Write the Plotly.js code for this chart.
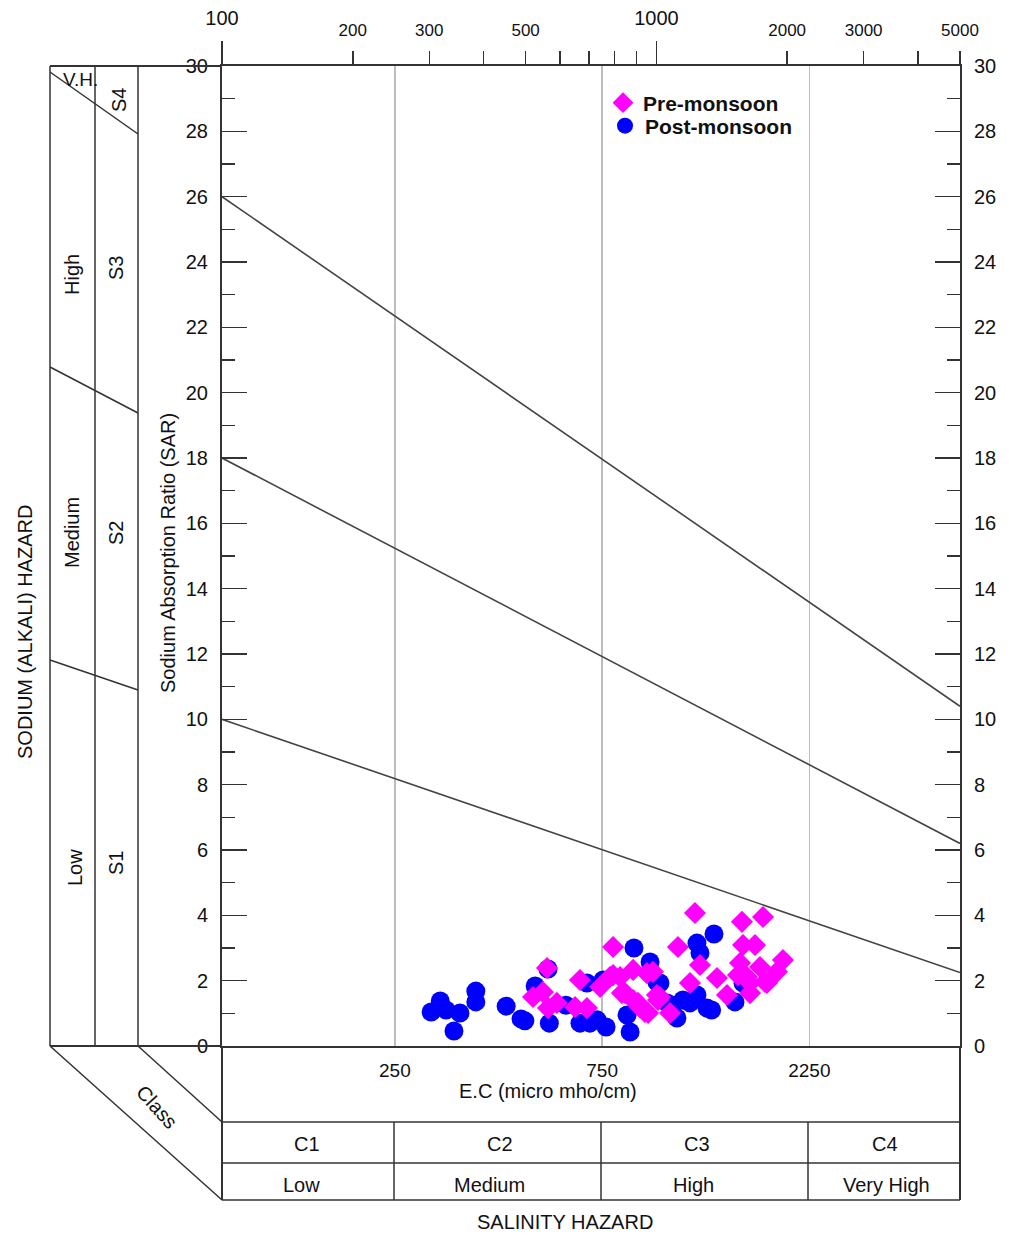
<!DOCTYPE html>
<html>
<head>
<meta charset="utf-8">
<script src="https://cdn.plot.ly/plotly-3.0.1.min.js"></script>
<style>html,body{margin:0;padding:0;background:#fff;}#chart{width:1009px;height:1235px;}</style>
</head>
<body>
<div id="chart"></div>
<script>
// ---- data (EC in micro mho/cm, SAR) ----
const preEC  = [560, 667, 795, 742, 520, 548, 563, 590, 650, 692, 782, 825, 884, 951, 847, 884, 917, 957, 1019, 1075,
                1121, 1195, 1227, 1574, 1760, 1583, 1687, 1260, 1558, 1732, 1956, 1895, 1541, 1643, 1797, 1379, 1454, 1643,
                982, 1003, 941, 833, 907, 1009, 1617, 1778, 795];
const preSAR = [2.39, 2.02, 3.03, 1.81, 1.50, 1.65, 1.16, 1.32, 1.19, 1.16, 2.11, 2.11, 2.33, 2.23, 1.62, 1.41, 1.19, 1.01, 1.50, 1.01,
                3.03, 1.93, 4.07, 3.80, 3.95, 3.09, 3.09, 2.48, 2.54, 2.42, 2.63, 2.27, 2.17, 1.93, 1.93, 2.08, 1.56, 1.62,
                2.27, 1.56, 1.04, 1.62, 1.32, 1.41, 2.11, 1.96, 2.17];
const postEC  = [303, 318, 328, 353, 342, 384, 384, 451, 488, 498, 526, 563, 567, 619, 667, 703, 730, 692, 754, 766,
                 870, 856, 888, 967, 1019, 1058, 1092, 1115, 1151, 1240, 1308, 1240, 1260, 1357, 1517, 1583, 1195, 1003, 1340];
const postSAR = [1.04, 1.38, 1.10, 1.01, 0.46, 1.68, 1.35, 1.22, 0.83, 0.77, 1.84, 2.36, 0.70, 1.25, 0.70, 0.70, 0.80, 1.93, 2.02, 0.58,
                 0.43, 0.95, 3.00, 2.57, 1.93, 1.32, 1.25, 0.86, 1.41, 1.56, 1.16, 3.15, 2.85, 3.43, 1.35, 1.93, 1.32, 1.96, 1.10];
// Sodium hazard boundary lines (EC endpoints and SAR at each end)
const boundaryEC = [100, 5000];
const boundaryS1S2 = [10, 2.25];
const boundaryS2S3 = [18, 6.2];
const boundaryS3S4 = [26, 10.4];
// tick labels
const bottomTickVals = [250, 750, 2250];
const topMinorVals = [200, 300, 400, 500, 600, 700, 800, 900, 2000, 3000, 4000, 5000];
const topMinorText = ['200', '300', '', '500', '', '', '', '', '2000', '3000', '', '5000'];
const topMajorVals = [100, 1000];
const salinityClasses = ['C1', 'C2', 'C3', 'C4'];
const salinityLevels = ['Low', 'Medium', 'High', 'Very High'];

const FONT = 'Liberation Sans, Arial, sans-serif';
const LC = '#333';
const xr = [2, Math.log10(5000)];

// paper coordinate helpers (plot area: px 222..960, py 66..1046)
const PX = p => (p - 222) / 738;
const PY = p => (1046 - p) / 980;

const lineStyle = {color: '#444', width: 1.6};
const traces = [
  {x: boundaryEC, y: boundaryS1S2, mode: 'lines', line: lineStyle, showlegend: false, hoverinfo: 'skip'},
  {x: boundaryEC, y: boundaryS2S3, mode: 'lines', line: lineStyle, showlegend: false, hoverinfo: 'skip'},
  {x: boundaryEC, y: boundaryS3S4, mode: 'lines', line: lineStyle, showlegend: false, hoverinfo: 'skip'},
  {x: postEC, y: postSAR, mode: 'markers', name: 'Post-monsoon', legend: 'legend2',
   marker: {symbol: 'circle', size: 19, color: '#0000ff', line: {width: 0}}},
  {x: preEC, y: preSAR, mode: 'markers', name: 'Pre-monsoon', legend: 'legend',
   marker: {symbol: 'diamond', size: 17, color: '#ff00ff', line: {width: 0}}},
  {x: [], y: [], xaxis: 'x2', yaxis: 'y', showlegend: false, hoverinfo: 'skip'},
  {x: [], y: [], xaxis: 'x3', yaxis: 'y', showlegend: false, hoverinfo: 'skip'},
  {x: [], y: [], xaxis: 'x', yaxis: 'y2', showlegend: false, hoverinfo: 'skip'}
];

const yCommon = {
  range: [0, 30], tick0: 0, dtick: 2, ticks: 'inside', ticklen: 25, tickwidth: 1.5, tickcolor: LC,
  minor: {ticks: 'inside', ticklen: 13, dtick: 1, tickwidth: 1.5, tickcolor: LC},
  showline: true, linecolor: LC, linewidth: 2, showgrid: false, zeroline: false,
  tickfont: {family: FONT, size: 20, color: '#111'}, ticklabelstandoff: 8, fixedrange: true
};

const shapes = [];
function seg(x0, y0, x1, y1, w) {
  shapes.push({type: 'line', xref: 'paper', yref: 'paper', x0: PX(x0), y0: PY(y0), x1: PX(x1), y1: PY(y1),
               line: {color: LC, width: w || 1.5}});
}
// left sodium hazard panel
seg(50, 66, 222, 66, 2);
seg(50, 66, 50, 1046); seg(95, 66, 95, 1046); seg(138, 66, 138, 1046);
seg(50, 72, 138, 134); seg(50, 367, 138, 413); seg(50, 660, 138, 690);
seg(50, 1046, 222, 1046, 2);
// bottom perspective + salinity box
seg(50, 1046, 222, 1200); seg(138, 1046, 222, 1122);
seg(222, 1046, 222, 1200, 2); seg(960, 1046, 960, 1200, 2);
seg(222, 1122, 960, 1122); seg(222, 1163, 960, 1163); seg(222, 1200, 960, 1200);
seg(394, 1122, 394, 1200); seg(601, 1122, 601, 1200); seg(808, 1122, 808, 1200);

const annotations = [];
function txt(t, px, py, size, angle, extra) {
  annotations.push(Object.assign({text: t, xref: 'paper', yref: 'paper', x: PX(px), y: PY(py),
    xanchor: 'center', yanchor: 'middle', showarrow: false, textangle: angle || 0,
    font: {family: FONT, size: size, color: '#111'}}, extra || {}));
}
txt('V.H.', 80, 79, 19);
txt('S4', 119, 100, 20, -90);
txt('High', 72, 275, 20, -90);
txt('S3', 116, 268, 20, -90);
txt('Medium', 72, 533, 20, -90);
txt('S2', 116, 533, 20, -90);
txt('Low', 75, 868, 20, -90);
txt('S1', 116, 863, 20, -90);
txt('SODIUM (ALKALI) HAZARD', 25, 632, 20, -90);
txt('Sodium Absorption Ratio (SAR)', 168, 553, 20, -90);
txt('Class', 157, 1107, 20, 48);
txt('E.C (micro mho/cm)', 548, 1091, 20);
const classX = [307, 500, 697, 885];
const levelX = [301, 489, 693, 886];
salinityClasses.forEach((c, i) => txt(c, classX[i], 1144, 20));
salinityLevels.forEach((c, i) => txt(c, levelX[i], 1185, 20));
txt('SALINITY HAZARD', 565, 1222, 20);

const legFont = {family: FONT, size: 21, color: '#111', weight: 'bold'};
const layout = {
  width: 1009, height: 1235,
  margin: {l: 222, r: 49, t: 66, b: 189, pad: 0},
  paper_bgcolor: '#fff', plot_bgcolor: '#fff',
  font: {family: FONT, color: '#111'},
  showlegend: true,
  legend: {x: PX(603), y: PY(103), xanchor: 'left', yanchor: 'middle', bgcolor: 'rgba(0,0,0,0)',
           font: legFont, itemwidth: 30},
  legend2: {x: PX(605), y: PY(126), xanchor: 'left', yanchor: 'middle', bgcolor: 'rgba(0,0,0,0)',
           font: legFont, itemwidth: 30},
  xaxis: {type: 'log', range: xr, tickvals: bottomTickVals, ticktext: bottomTickVals.map(String),
          ticks: '', showgrid: true, gridcolor: '#bdbdbd', gridwidth: 1.5, showline: true,
          linecolor: LC, linewidth: 2, zeroline: false, tickfont: {family: FONT, size: 19, color: '#111'},
          ticklabelstandoff: 6, fixedrange: true},
  xaxis2: {type: 'log', range: xr, overlaying: 'x', side: 'top', anchor: 'y', tickvals: topMinorVals,
           ticktext: topMinorText, ticks: 'outside', ticklen: 13, tickwidth: 1.5, tickcolor: LC,
           showline: true, linecolor: LC, linewidth: 2, showgrid: false, zeroline: false,
           tickfont: {family: FONT, size: 17, color: '#111'}, ticklabelstandoff: 8, fixedrange: true},
  xaxis3: {type: 'log', range: xr, overlaying: 'x', side: 'top', anchor: 'y', tickvals: topMajorVals,
           ticktext: topMajorVals.map(String), ticks: 'outside', ticklen: 24, tickwidth: 1.5, tickcolor: LC,
           showline: false, showgrid: false, zeroline: false,
           tickfont: {family: FONT, size: 20, color: '#111'}, ticklabelstandoff: 8, fixedrange: true},
  yaxis: Object.assign({}, yCommon, {side: 'left'}),
  yaxis2: Object.assign({}, yCommon, {side: 'right', overlaying: 'y', anchor: 'x'}),
  shapes: shapes,
  annotations: annotations
};

Plotly.newPlot('chart', traces, layout, {displayModeBar: false, staticPlot: true});
</script>
</body>
</html>
